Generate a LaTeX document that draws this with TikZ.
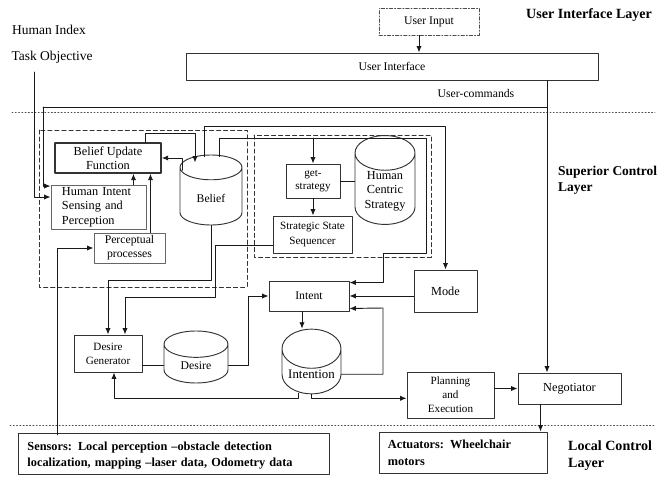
\documentclass[tikz,border=0pt]{standalone}
\usepackage{fontspec}
\setmainfont{Liberation Serif}
\usetikzlibrary{arrows.meta,calc,positioning,shapes.geometric}

\tikzset{
  blk/.style={draw=black!80,line width=0.8pt,align=center,inner sep=1pt,
    font=\fontsize{10}{12}\selectfont},
  store/.style={draw=black!80,line width=0.8pt,cylinder,shape border rotate=90,
    aspect=0.8,anchor=shape center,align=center,inner sep=1pt,
    font=\fontsize{10}{12}\selectfont},
  grp/.style={draw=black!80,line width=0.8pt,dash pattern=on 3.5pt off 2.5pt},
  layersep/.style={draw=black!70,line width=0.8pt,dotted},
  lyr/.style={anchor=west,align=left,inner sep=0pt,font=\bfseries\fontsize{12}{14.5}\selectfont},
  io/.style={draw=black!80,line width=0.8pt,align=left,
    font=\bfseries\fontsize{10.5}{14.5}\selectfont},
  link/.style={draw=black!90,line width=0.8pt},
  flow/.style={link,-{Latex[length=5.5pt,width=4.5pt]}},
}

\begin{document}
\begin{tikzpicture}[x=0.03cm,y=-0.03cm,line cap=round,line join=round]
\useasboundingbox (0,0) rectangle (663,480);

%% user interface layer
\node[font=\fontsize{11.5}{13}\selectfont] (hidx) at (49,30) {Human Index};
\node[font=\fontsize{11.5}{13}\selectfont] (tobj) at (52,57) {Task Objective};
\node[blk,draw=black!70,line width=0.6pt,dash pattern=on 3pt off 1.5pt on 1pt off 1.5pt,
  minimum width=3cm,minimum height=0.81cm] (uinput) at (429,21.5) {User Input};
\node[blk,minimum width=12.36cm,minimum height=0.81cm] (ui) at (392,66.5) {User Interface};
\node[font=\fontsize{10}{12}\selectfont] (ucmd) at (476,93) {User-commands};
\node[lyr] (uilyr) at (526,15) {User Interface Layer};
\draw[layersep] (12,112) -- (655,112);

%% superior control layer
\node[lyr,font=\bfseries\fontsize{11.5}{14}\selectfont] (suplyr) at (558,180) {Superior Control\\Layer};
\draw[grp] (39,130) rectangle (247,287);
\draw[grp] (254,135) rectangle (431,257);

\node[blk,line width=1.3pt,minimum width=3.18cm,minimum height=0.9cm,
  font=\fontsize{10.5}{12}\selectfont] (buf) at (108,158) {Belief Update\\Function};
\node[blk,draw=black!60,align=left,text width=2.19cm,inner xsep=0.33cm,minimum height=1.32cm,
  font=\fontsize{10.5}{12.5}\selectfont] (hisp) at (98.5,207) {Human Intent\\Sensing and\\Perception};
\node[blk,draw=black!60,minimum width=2.13cm,minimum height=0.9cm] (perc) at (129.5,248) {Perceptual\\processes};
\node[store,minimum width=1.86cm,minimum height=2.1cm] (belief) at (211,190) {Belief};

\node[blk,minimum width=1.62cm,minimum height=1.02cm,font=\fontsize{9.5}{11.5}\selectfont] (gets) at (313,181) {get-\\strategy};
\node[store,minimum width=1.8cm,minimum height=1.68cm,font=\fontsize{10.5}{12}\selectfont] (hcs) at (385,180) {Human\\Centric\\Strategy};
\node[blk,minimum width=2.37cm,minimum height=1.11cm,font=\fontsize{9.5}{12}\selectfont] (sss) at (312.5,234.5) {Strategic State\\Sequencer};

\node[blk,minimum width=2.4cm,minimum height=0.9cm] (intent) at (309,296) {Intent};
\node[blk,minimum width=1.89cm,minimum height=1.26cm,font=\fontsize{10.5}{12}\selectfont] (mode) at (445.5,291) {Mode};
\node[blk,minimum width=2.04cm,minimum height=1.11cm,font=\fontsize{9.5}{12}\selectfont] (dgen) at (108,353.5) {Desire\\Generator};
\node[store,minimum width=1.92cm,minimum height=1.56cm] (desire) at (196,357) {Desire};
\node[store,minimum width=1.77cm,minimum height=1.89cm,font=\fontsize{11}{12}\selectfont] (intention) at (311.5,361.5) {Intention};
\node[blk,minimum width=2.61cm,minimum height=1.38cm,font=\fontsize{9.5}{12}\selectfont] (plan) at (450.5,395) {Planning\\and\\Execution};
\node[blk,minimum width=3.09cm,minimum height=0.93cm,font=\fontsize{10.5}{12}\selectfont] (nego) at (569.5,388.5) {Negotiator};

%% local control layer
\draw[layersep] (10,425) -- (655,425);
\node[io,anchor=north west,text width=8.79cm,inner xsep=0.27cm,inner ysep=0.24cm,text depth=0.5cm] (sensors) at (18,433)
  {Sensors: Local perception –obstacle detection\\localization, mapping –laser data, Odometry data};
\node[io,minimum width=5.04cm,minimum height=1.23cm,text width=4.5cm,inner xsep=0.27cm] (act) at (463,452.5)
  {Actuators: Wheelchair\\motors};
\node[lyr] (loclyr) at (568,456) {Local Control\\Layer};

%% user input and commands
\coordinate (uiin) at ($(uinput.south)+(-10,0)$);
\draw[flow] (uiin) -- (uiin |- ui.north);
\coordinate (cmd) at (547,107);
\coordinate (cmdl) at (43,107);
\draw[flow] (cmd |- ui.south) -- (cmd |- nego.north);
\draw[link] (cmd) -- (cmdl);
\draw[flow] (cmdl) |- ($(hisp.north west)+(0,1.5)$);
\coordinate (tdrop) at (34,72);
\draw[flow] (tdrop) |- ($(hisp.west)+(0,-10)$);

%% perception group
\coordinate (hb) at ($(hisp.north east)+(-13,0)$);
\draw[flow] (hb) -- (hb |- buf.south);
\coordinate (pb) at ($(perc.north east)+(-15,0)$);
\draw[flow] (pb) -- (pb |- buf.south);
\coordinate (bb) at ($(belief.west)+(3,-28)$);
\draw[flow] (bb) |- (buf.east);
\coordinate (bu) at ($(buf.north east)+(-16,0)$);
\coordinate (bt) at ($(belief.north)+(-16,8)$);
\draw[flow] (bu) -- ++(0,-9) -| (bt);

%% belief to mode, strategy and intent
\coordinate (bm) at ($(belief.north)+(-7,2)$);
\draw[flow] (bm) -- ++(0,-30) -| (mode.north);
\coordinate (bg) at ($(belief.north)+(8,2)$);
\coordinate (sa) at (426,138);
\coordinate (sb) at (383,253);
\draw[flow] (bg) |- (sa) |- (sb) |- ($(intent.north east)+(0,2)$);
\draw[flow] (gets.north |- sa) -- (gets.north);
\draw[flow] (gets.south) -- (gets.south |- sss.north);
\draw[link] (gets.east) -- (gets.east -| hcs.west);

%% desire generation
\coordinate (sd) at (215,297);
\draw[flow] ($(sss.west)+(0,11)$) -| (sd) -| ($(dgen.north)+(17,0)$);
\draw[flow] (belief.south) -- ++(0,55) -| (dgen.north);
\draw[link] (desire.west) -- (desire.west -| dgen.east);
\draw[flow] (desire.east) -- ++(20,0) |- (intent.west);

%% intent and intention
\coordinate (ii) at ($(intent.south)+(-7,0)$);
\draw[flow] (ii) -- (ii |- intention.north);
\coordinate (ic) at (383,308);
\draw[flow] (intention.east) -| (ic) -- ($(intent.south east)+(0,-3)$);
\draw[flow] (intent.east -| mode.west) -- (intent.east);
\coordinate (idg) at ($(intention.south)+(-13,4)$);
\draw[flow] ($(intention.south)+(-13,-1)$) -- (idg) -| ($(dgen.south)+(6,0)$);
\coordinate (ip) at ($(intention.south)+(0,4)$);
\draw[flow] (intention.south) -- (ip) -- (ip -| plan.west);

%% execution
\draw[flow] (plan.east |- nego.west) -- (nego.west);
\coordinate (na) at ($(nego.south)+(-29,0)$);
\draw[flow] (na) -- (na |- act.north);
\coordinate (sp) at ($(sensors.north west)+(39,2)$);
\draw[flow] (sp) |- (perc.west);
\end{tikzpicture}
\end{document}
